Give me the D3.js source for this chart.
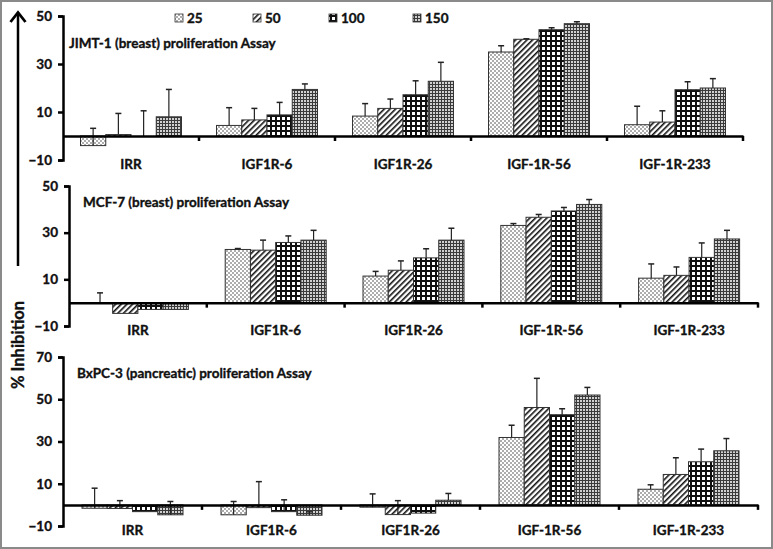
<!DOCTYPE html>
<html><head><meta charset="utf-8">
<script src="https://cdn.jsdelivr.net/npm/d3@7"></script>
<style>
html,body{margin:0;padding:0;background:#fff;}
svg text{font-family:Lato,"Open Sans",sans-serif;font-weight:bold;fill:#111;stroke:#111;stroke-width:0.35px;}
</style></head>
<body><svg id="chart" width="773" height="549"></svg>
<script>
// ---- data ----
const categories = ["IRR", "IGF1R-6", "IGF1R-26", "IGF-1R-56", "IGF-1R-233"];
const seriesNames = ["25", "50", "100", "150"];
const panelTitles = ["JIMT-1 (breast) proliferation Assay", "MCF-7 (breast) proliferation Assay", "BxPC-3 (pancreatic) proliferation Assay"];

const jimt25 = [-4, 4.4, 8.3, 35, 4.7];
const jimt50 = [0.6, 6.7, 11.5, 40.3, 5.8];
const jimt100 = [0, 8.8, 17.2, 44.3, 19.3];
const jimt150 = [8, 19.4, 22.8, 46.8, 20];
const jimt25Err = [7.2, 7.4, 5.2, 2.6, 7.7];
const jimt50Err = [8.8, 4.8, 3.9, 0.2, 4.7];
const jimt100Err = [10.5, 5.2, 5.8, 0.8, 3.3];
const jimt150Err = [11.4, 2.3, 7.9, 0.8, 3.9];

const mcf25 = [-0.3, 22.8, 11.4, 33.1, 10.5];
const mcf50 = [-4.6, 22.5, 13.9, 36.6, 11.7];
const mcf100 = [-2.9, 25.8, 19.2, 39.3, 19.4];
const mcf150 = [-2.9, 26.8, 26.8, 42.1, 27.3];
const mcf25Err = [4.5, 0.4, 2.0, 0.8, 6.1];
const mcf50Err = [0, 4.3, 4.0, 1.2, 3.6];
const mcf100Err = [0, 2.8, 3.9, 1.5, 6.2];
const mcf150Err = [0, 4.2, 5.1, 2.1, 3.7];

const bx25 = [-1.6, -4.7, -1.1, 31.9, 7.4];
const bx50 = [-1.7, -1.3, -4.6, 46.1, 14.4];
const bx100 = [-3.2, -3.2, -3.9, 42.7, 20.4];
const bx150 = [-4.7, -4.9, 2.2, 52, 25.6];
const bx25Err = [9.5, 6.3, 6.3, 5.8, 2.1];
const bx50Err = [3.7, 12.3, 6.6, 13.8, 7.9];
const bx100Err = [0, 5.6, 0, 2.8, 6.0];
const bx150Err = [6.3, 1.6, 3.2, 3.6, 5.8];

const ticksTopMid = [-10, 10, 30, 50];
const ticksBottom = [-10, 10, 30, 50, 70];
const yTitle = "% Inhibition";

// ---- build ----
const panelValues = [[jimt25, jimt50, jimt100, jimt150], [mcf25, mcf50, mcf100, mcf150], [bx25, bx50, bx100, bx150]];
const panelErrors = [[jimt25Err, jimt50Err, jimt100Err, jimt150Err], [mcf25Err, mcf50Err, mcf100Err, mcf150Err], [bx25Err, bx50Err, bx100Err, bx150Err]];
const panelTicks = [ticksTopMid, ticksTopMid, ticksBottom];
const layout = [
  {x0: 63, x1: 743, yTop: 16, yBot: 160, title: [69, 48]},
  {x0: 69, x1: 758, yTop: 186, yBot: 326, title: [83, 207]},
  {x0: 63, x1: 758, yTop: 357, yBot: 526, title: [77, 378]}
];

const svg = d3.select("#chart");
const defs = svg.append("defs");
const patIds = ["p25", "p50", "p100", "p150"];
{
  const p = defs.append("pattern").attr("id", "p25").attr("patternUnits", "userSpaceOnUse").attr("width", 4).attr("height", 4);
  p.append("rect").attr("width", 4).attr("height", 4).attr("fill", "#fff");
  p.append("rect").attr("width", 2).attr("height", 2).attr("fill", "#adadad");
  p.append("rect").attr("x", 2).attr("y", 2).attr("width", 2).attr("height", 2).attr("fill", "#adadad");
}
{
  const p = defs.append("pattern").attr("id", "p50").attr("patternUnits", "userSpaceOnUse").attr("width", 4).attr("height", 4).attr("patternTransform", "rotate(45)");
  p.append("rect").attr("width", 4).attr("height", 4).attr("fill", "#fff");
  p.append("rect").attr("width", 1.6).attr("height", 4).attr("fill", "#111");
}
{
  const p = defs.append("pattern").attr("id", "p100").attr("patternUnits", "userSpaceOnUse").attr("width", 5).attr("height", 5);
  p.append("rect").attr("width", 5).attr("height", 5).attr("fill", "#fff");
  p.append("rect").attr("width", 5).attr("height", 2).attr("fill", "#111");
  p.append("rect").attr("width", 2).attr("height", 5).attr("fill", "#111");
}
{
  const p = defs.append("pattern").attr("id", "p150").attr("patternUnits", "userSpaceOnUse").attr("width", 3).attr("height", 3);
  p.append("rect").attr("width", 3).attr("height", 3).attr("fill", "#d0d0d0");
  p.append("rect").attr("width", 3).attr("height", 1).attr("fill", "#3a3a3a");
  p.append("rect").attr("width", 1).attr("height", 3).attr("fill", "#3a3a3a");
}

svg.append("rect").attr("x", 1).attr("y", 1).attr("width", 771).attr("height", 547)
  .attr("fill", "none").attr("stroke", "#8a8a8a").attr("stroke-width", 2);

panelValues.forEach((vals, pi) => {
  const L = layout[pi];
  const ticks = panelTicks[pi];
  const y = d3.scaleLinear().domain([d3.min(ticks), d3.max(ticks)]).range([L.yBot, L.yTop]);
  const x0 = d3.scaleBand().domain(categories).range([L.x0, L.x1]).paddingInner(0).paddingOuter(0);
  const groupW = 101;
  const x1 = d3.scaleBand().domain(seriesNames).range([0, groupW]);
  const g = svg.append("g");

  const rows = [];
  categories.forEach((c, ci) => {
    seriesNames.forEach((s, si) => {
      rows.push({c, s, si, v: vals[si][ci], e: panelErrors[pi][si][ci]});
    });
  });
  const bx = d => x0(d.c) + (x0.bandwidth() - groupW) / 2 + x1(d.s);

  g.selectAll("rect.bar").data(rows).join("rect").attr("class", "bar")
    .attr("x", bx)
    .attr("width", x1.bandwidth())
    .attr("y", d => Math.min(y(d.v), y(0)))
    .attr("height", d => Math.abs(y(d.v) - y(0)))
    .attr("fill", d => `url(#${patIds[d.si]})`)
    .attr("stroke", "#333").attr("stroke-width", 1);

  const eb = g.selectAll("g.err").data(rows.filter(d => d.e > 0)).join("g").attr("class", "err");
  eb.append("line")
    .attr("x1", d => bx(d) + x1.bandwidth() / 2).attr("x2", d => bx(d) + x1.bandwidth() / 2)
    .attr("y1", d => y(d.v)).attr("y2", d => y(d.v + d.e))
    .attr("stroke", "#222").attr("stroke-width", 1.2);
  eb.append("line")
    .attr("x1", d => bx(d) + x1.bandwidth() / 2 - 3).attr("x2", d => bx(d) + x1.bandwidth() / 2 + 3)
    .attr("y1", d => y(d.v + d.e)).attr("y2", d => y(d.v + d.e))
    .attr("stroke", "#222").attr("stroke-width", 1.5);

  const yAxis = d3.axisLeft(y).tickValues(ticks).tickSize(5).tickPadding(6).tickFormat(d3.format("d"));
  const ya = g.append("g").attr("transform", `translate(${L.x0},0)`).call(yAxis);
  ya.select(".domain").attr("stroke", "#000").attr("stroke-width", 2.5);
  ya.selectAll(".tick line").attr("stroke", "#000").attr("stroke-width", 2.5);
  ya.selectAll(".tick text").style("font-size", "13.5px").style("font-family", "Lato").style("font-weight", "bold").attr("fill", "#111");

  const xAxis = d3.axisBottom(x0).tickSize(0).tickPadding(0).tickFormat("");
  const xa = g.append("g").attr("transform", `translate(0,${y(0)})`).call(xAxis);
  xa.select(".domain").attr("stroke", "#000").attr("stroke-width", 2.5);
  xa.selectAll(".tick").remove();
  const bounds = categories.map(c => x0(c) + x0.bandwidth());
  xa.selectAll("line.bt").data(bounds).join("line").attr("class", "bt")
    .attr("x1", d => d).attr("x2", d => d).attr("y1", 0).attr("y2", 5)
    .attr("stroke", "#000").attr("stroke-width", 2.5);

  g.selectAll("text.cat").data(categories).join("text").attr("class", "cat")
    .attr("x", d => x0(d) + x0.bandwidth() / 2)
    .attr("y", L.yBot + 9)
    .attr("text-anchor", "middle")
    .style("font-size", "13.5px")
    .text(d => d);

  g.append("text").attr("x", L.title[0]).attr("y", L.title[1])
    .style("font-size", "13.5px").text(panelTitles[pi]);
});

const legX = [175, 253, 329, 413];
const leg = svg.append("g");
seriesNames.forEach((s, i) => {
  leg.append("rect").attr("x", legX[i]).attr("y", 14).attr("width", 8).attr("height", 8)
    .attr("fill", `url(#${patIds[i]})`).attr("stroke", "#333").attr("stroke-width", 0.8);
  leg.append("text").attr("x", legX[i] + 12).attr("y", 23).style("font-size", "13.5px").text(s);
});

svg.append("line").attr("x1", 18).attr("x2", 18).attr("y1", 266).attr("y2", 14)
  .attr("stroke", "#000").attr("stroke-width", 2.5);
svg.append("path").attr("d", "M10.5,22 L18,12.5 L25.5,22").attr("fill", "none")
  .attr("stroke", "#000").attr("stroke-width", 2.8).attr("stroke-linejoin", "miter");
svg.append("text").attr("transform", "translate(24,345) rotate(-90)").attr("text-anchor", "middle")
  .style("font-size", "16.5px").text(yTitle);
</script></body></html>
